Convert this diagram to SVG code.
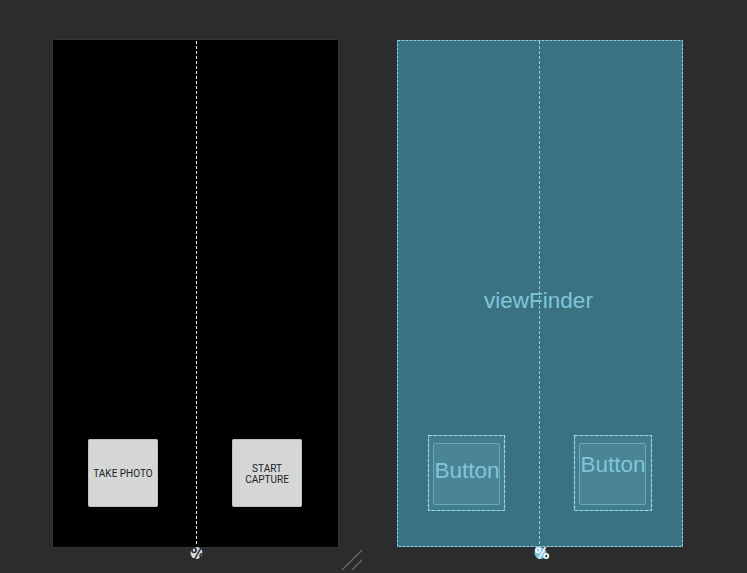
<svg xmlns="http://www.w3.org/2000/svg" width="747" height="573" viewBox="0 0 747 573">
<style>
.guide{stroke-width:1;stroke-dasharray:3 2;fill:none}
.btnL{fill:#d5d6d6;stroke:#bfc0c0;stroke-width:1}
.btnLtxt{font-family:Roboto,"Liberation Sans",sans-serif;font-size:10px;fill:#222;text-anchor:middle}
.bluetxt{font-family:"Liberation Sans",Arial,sans-serif;fill:#80c6d9;text-anchor:middle}
.outer{fill:#417d8d;stroke:#94d6ea;stroke-width:1.2;stroke-dasharray:4 1}
.inner{fill:#4a8596;stroke:#6aa8ba;stroke-width:1}
.pct{font-family:"DejaVu Sans",sans-serif;font-size:15px;font-weight:bold;text-anchor:middle}
</style>
<rect width="747" height="573" fill="#2b2c2e"/>
<g id="left-screen">
<rect x="52.5" y="39.5" width="286" height="508" fill="#000" stroke="#333436" stroke-width="1"/>
</g>
<g id="right-screen">
<rect x="397.5" y="40.5" width="285" height="506" fill="#3a7282" stroke="#8fd3e8" stroke-width="1" stroke-dasharray="3 1"/>
</g>
<g id="connectors">
<line class="guide" x1="196.5" y1="41" x2="196.5" y2="546" stroke="#e8e8e8"/>
<line class="guide" x1="539.5" y1="41" x2="539.5" y2="546" stroke="#8fd3e8"/>
<line x1="342" y1="570" x2="362" y2="550" stroke="#6a6b6d" stroke-width="1.2"/>
<line x1="352" y1="570" x2="362" y2="560" stroke="#6a6b6d" stroke-width="1.2"/>
</g>
<g id="take-photo">
<rect class="btnL" x="88.5" y="439.5" width="69" height="67" rx="1"/>
<text class="btnLtxt" x="123" y="477">TAKE PHOTO</text>
</g>
<g id="start-capture">
<rect class="btnL" x="232.5" y="439.5" width="69" height="67" rx="1"/>
<text class="btnLtxt" x="267" y="472">START</text>
<text class="btnLtxt" x="267" y="483">CAPTURE</text>
</g>
<g id="viewfinder-label">
<text class="bluetxt" x="538.5" y="307.5" font-size="22.5">viewFinder</text>
</g>
<g id="button-1">
<rect class="outer" x="428.5" y="435.5" width="76" height="75"/>
<rect class="inner" x="433.5" y="443.5" width="66" height="61" rx="1"/>
<text class="bluetxt" x="467" y="477.5" font-size="22.5">Button</text>
</g>
<g id="button-2">
<rect class="outer" x="574.5" y="435.5" width="77" height="75"/>
<rect class="inner" x="579.5" y="443.5" width="66" height="61" rx="1"/>
<text class="bluetxt" x="613" y="471.5" font-size="22.5">Button</text>
</g>
<g id="percent-left">
<circle cx="196.5" cy="553" r="6" fill="#dcdcdc"/>
<text class="pct" x="198" y="558.5" fill="#2b2c2e">%</text>
</g>
<g id="percent-right">
<circle cx="540.5" cy="553" r="6" fill="#7fc3d9"/>
<text class="pct" x="542" y="558.5" fill="#eef8fb">%</text>
</g>
</svg>
